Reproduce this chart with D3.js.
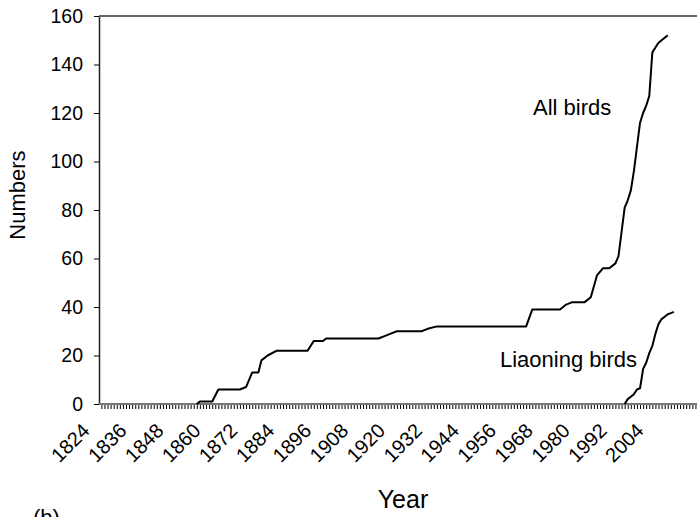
<!DOCTYPE html>
<html>
<head>
<meta charset="utf-8">
<script src="https://cdn.jsdelivr.net/npm/d3@7"></script>
<style>
  body { margin: 0; background: #fff; }
  svg { font-family: "Liberation Sans", Arial, sans-serif; }
</style>
</head>
<body>
<script>
// cumulative counts (year / value pairs)
var allYears  = [1860, 1861, 1865, 1867, 1874, 1876, 1878, 1880, 1881, 1883, 1886, 1896, 1898, 1901, 1902,
                 1919, 1921, 1923, 1925, 1933, 1935, 1938, 1967, 1969, 1978, 1980, 1982, 1986, 1988, 1990,
                 1992, 1994, 1996, 1997, 1999, 2000, 2001, 2002, 2003, 2004, 2005, 2006, 2007, 2008, 2009,
                 2010, 2011, 2012, 2013];
var allValues = [0, 1, 1, 6, 6, 7, 13, 13, 18, 20, 22, 22, 26, 26, 27,
                 27, 28, 29, 30, 30, 31, 32, 32, 39, 39, 41, 42, 42, 44, 53,
                 56, 56, 58, 61, 81, 84, 88, 96, 106, 116, 120, 123, 127, 145, 147,
                 149, 150, 151, 152];

var liaoYears  = [1999, 2000, 2001, 2002, 2003, 2004, 2005, 2006, 2007, 2008, 2009, 2010, 2011, 2012, 2013, 2014, 2015];
var liaoValues = [0, 2, 3, 4, 6, 6.5, 14.5, 17, 21, 24, 29, 33, 35, 36, 37, 37.5, 38];

var yTicks = [0, 20, 40, 60, 80, 100, 120, 140, 160];
var yearLabels = [1824, 1836, 1848, 1860, 1872, 1884, 1896, 1908, 1920, 1932, 1944, 1956, 1968, 1980, 1992, 2004];

draw();

function draw() {
  var width = 697, height = 517;
  var plotLeft = 99, plotRight = 697, plotTop = 16, plotBottom = 404;

  var svg = d3.select("body")
    .append("svg")
      .attr("width", width)
      .attr("height", height);

  var x = d3.scaleLinear()
    .domain([1824, 2004])
    .range([86, 86 + 180 * 3.078]);

  var y = d3.scaleLinear()
    .domain([0, 160])
    .range([plotBottom, plotTop]);

  // yearly tick marks along the bottom
  var tickYears = d3.range(1829, 2023);
  var xAxis = svg.append("g")
    .attr("transform", "translate(0," + plotBottom + ")")
    .call(d3.axisBottom(x).tickValues(tickYears).tickSize(5).tickFormat(""));
  xAxis.select(".domain").remove();
  xAxis.selectAll(".tick line").attr("stroke", "#000").attr("stroke-width", 1);

  // rotated year labels, every 12 years
  svg.append("g")
    .selectAll("text")
    .data(yearLabels)
    .enter().append("text")
      .attr("transform", function(d) { return "translate(" + x(d) + ",427) rotate(-45)"; })
      .attr("text-anchor", "end")
      .attr("dy", "0.35em")
      .attr("font-size", 20)
      .attr("fill", "#000")
      .text(function(d) { return d; });

  // y axis
  var yAxis = svg.append("g")
    .attr("transform", "translate(" + plotLeft + ",0)")
    .call(d3.axisLeft(y).tickValues(yTicks).tickSize(5).tickSizeOuter(0).tickPadding(11));
  yAxis.select(".domain").attr("stroke", "#222").attr("stroke-width", 1.5);
  yAxis.selectAll(".tick line").attr("stroke", "#000");
  yAxis.selectAll(".tick text")
    .attr("font-family", "Liberation Sans, Arial, sans-serif")
    .attr("font-size", 19.5)
    .attr("fill", "#000");

  // bottom axis line and top frame
  svg.append("line")
    .attr("x1", plotLeft).attr("x2", plotRight)
    .attr("y1", plotBottom).attr("y2", plotBottom)
    .attr("stroke", "#777").attr("stroke-width", 2);
  svg.append("line")
    .attr("x1", plotLeft).attr("x2", plotRight)
    .attr("y1", plotTop).attr("y2", plotTop)
    .attr("stroke", "#333").attr("stroke-width", 1.5);

  var line = d3.line()
    .x(function(d) { return x(d[0]); })
    .y(function(d) { return y(d[1]); });

  svg.append("path")
    .datum(d3.zip(allYears, allValues))
    .attr("d", line)
    .attr("fill", "none")
    .attr("stroke", "#000")
    .attr("stroke-width", 2)
    .attr("stroke-linejoin", "round");

  svg.append("path")
    .datum(d3.zip(liaoYears, liaoValues))
    .attr("d", line)
    .attr("fill", "none")
    .attr("stroke", "#000")
    .attr("stroke-width", 2)
    .attr("stroke-linejoin", "round");

  // series labels
  svg.append("text")
    .attr("x", 533).attr("y", 115)
    .attr("font-size", 22)
    .text("All birds");
  svg.append("text")
    .attr("x", 500).attr("y", 367)
    .attr("font-size", 22)
    .text("Liaoning birds");

  // axis titles
  svg.append("text")
    .attr("transform", "translate(25,195) rotate(-90)")
    .attr("text-anchor", "middle")
    .attr("font-size", 22)
    .text("Numbers");
  svg.append("text")
    .attr("x", 403).attr("y", 508)
    .attr("text-anchor", "middle")
    .attr("font-size", 25)
    .text("Year");

  // panel letter, cut off at the bottom edge as in the source
  svg.append("text")
    .attr("x", 33).attr("y", 525)
    .attr("font-size", 22)
    .text("(b)");
}
</script>
</body>
</html>
